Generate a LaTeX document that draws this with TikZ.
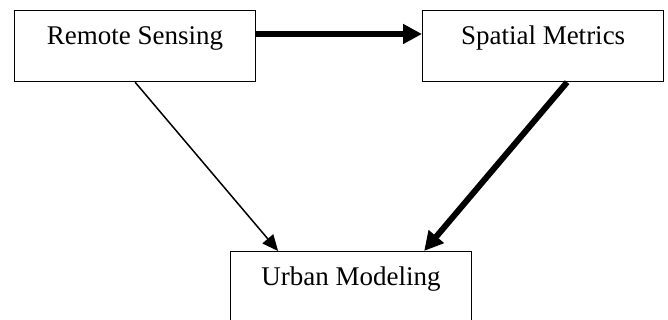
\documentclass[tikz,border=0pt]{standalone}
\usepackage{fontspec}
\setmainfont{Liberation Serif}
\usetikzlibrary{arrows.meta}

\begin{document}
\begin{tikzpicture}[x=1pt, y=-1pt,
    box/.style={draw, line width=1.2pt, inner xsep=0pt, inner ysep=0pt,
        minimum width=241pt, text height=34pt, text depth=37pt,
        font=\fontsize{27}{32}\selectfont},
    thinarrow/.style={line width=1.5pt, -{Triangle[length=16pt, width=14pt]}},
    thickarrow/.style={line width=6pt, -{Triangle[length=19pt, width=19pt]}}]

    \useasboundingbox (0,0) rectangle (668,320);

    % CAJAS
    \node[box, anchor=north west] (remote) at (14,10) {Remote Sensing};
    \node[box, anchor=north west] (metrics) at (422,10) {Spatial Metrics};
    \node[box, anchor=north west, text depth=45pt] (urban) at (230,251) {Urban Modeling};

    % FLECHAS
    \draw[thickarrow] ([yshift=-24pt]remote.north east) -- ([yshift=-24pt]metrics.north west);
    \draw[thinarrow] (remote.south) -- ([xshift=-73pt]urban.north);
    \draw[thickarrow] ([xshift=24pt]metrics.south) -- ([xshift=73pt]urban.north);

\end{tikzpicture}
\end{document}
